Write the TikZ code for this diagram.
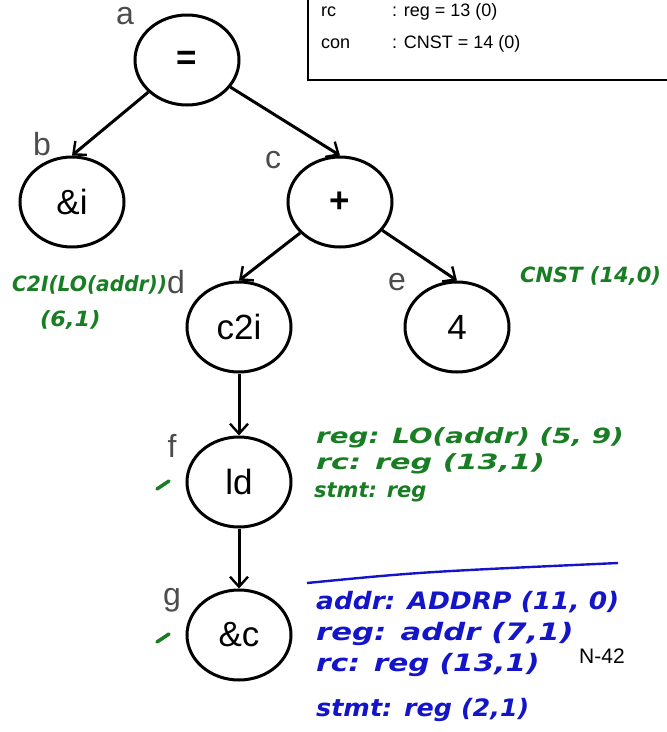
\documentclass[tikz,border=0pt]{standalone}
\usepackage{fontspec}
\setmainfont{Liberation Sans}
\newfontfamily\handfont{DejaVu Sans}
\usetikzlibrary{arrows.meta,shapes.geometric}
\definecolor{hgreen}{RGB}{25,125,35}
\definecolor{hblue}{RGB}{20,20,200}
\tikzset{
  tnode/.style={draw,ellipse,line width=3pt,minimum width=104pt,minimum height=90pt,inner sep=0pt,font=\fontsize{35}{35}\selectfont},
  tlabel/.style={font=\fontsize{32}{32}\selectfont,text=black!70},
  tedge/.style={line width=3pt,-{Straight Barb[length=10pt,width=18pt,line width=2.4pt]}},
  gnote/.style={anchor=west,text=hgreen,font=\handfont\bfseries\itshape\fontsize{21}{21}\selectfont,inner sep=0pt},
  bnote/.style={anchor=west,text=hblue,font=\handfont\bfseries\itshape\fontsize{24}{24}\selectfont,inner sep=0pt},
  boxtext/.style={anchor=west,font=\fontsize{18}{18}\selectfont,inner sep=0pt},
  tick/.style={draw=hgreen,line width=3.5pt,line cap=round}
}
\begin{document}
\begin{tikzpicture}[x=1pt,y=-1pt]
\useasboundingbox[fill=white] (0,0) rectangle (667,732);
% legend box (partially visible)
\draw[line width=2.4pt] (308,-5) -- (308,80) -- (672,80);
\node[boxtext] (rc) at (321,12) {rc};
\node[boxtext] (con) at (321,44) {con};
\node[boxtext] (rcv) at (392,12) {: reg = 13 (0)};
\node[boxtext] (conv) at (392,44) {: CNST = 14 (0)};
% tree nodes
\node[tnode] (a) at (187,60) {\textbf{=}};
\node[tnode] (b) at (72,202) {\&i};
\node[tnode] (c) at (340,202) {\textbf{+}};
\node[tnode] (d) at (239,327) {c2i};
\node[tnode] (e) at (457,327) {4};
\node[tnode] (f) at (239,482) {ld};
\node[tnode] (g) at (239,635) {\&c};
% node letters
\node[tlabel] (la) at (125,16) {a};
\node[tlabel] (lb) at (42,144) {b};
\node[tlabel] (lc) at (273,160) {c};
\node[tlabel] (ld) at (176,282) {d};
\node[tlabel] (le) at (397,282) {e};
\node[tlabel] (lf) at (172,446) {f};
\node[tlabel] (lg) at (172,600) {g};
% edges
\draw[tedge] (a) -- (b.north);
\draw[tedge] (a) -- (c.north);
\draw[tedge] (c) -- (d.north);
\draw[tedge] (c) -- (e.north);
\draw[tedge] (d) -- (f);
\draw[tedge] (f) -- (g);
% green annotations
\node[gnote] (n1) at (12,285) {\scalebox{0.96}[1]{C2I(LO(addr))}};
\node[gnote] (n2) at (40,320) {\scalebox{1.07}[1]{(6,1)}};
\node[gnote] (n3) at (520,276) {CNST (14,0)};
\node[gnote] (n4) at (316,438) {\scalebox{1.32}[1]{reg: LO(addr) (5, 9)}};
\node[gnote] (n5) at (316,464) {\scalebox{1.44}[1]{rc: reg (13,1)}};
\node[gnote] (n6) at (314,492) {stmt: reg};
\draw[tick] (157,489) -- (169,481);
\draw[tick] (157,642) -- (169,634);
% blue annotations
\coordinate (bl1) at (307,583);
\coordinate (bl2) at (618,563);
\draw[hblue,line width=2.4pt] (bl1) .. controls (420,572) .. (bl2);
\node[bnote] (m1) at (316,602) {\scalebox{1.1}[1]{addr: ADDRP (11, 0)}};
\node[bnote] (m2) at (316,634) {\scalebox{1.28}[1]{reg: addr (7,1)}};
\node[bnote] (m3) at (316,665) {\scalebox{1.23}[1]{rc: reg (13,1)}};
\node[bnote] (m4) at (316,710) {\scalebox{1.06}[1]{stmt: reg (2,1)}};
\node[font=\fontsize{21}{21}\selectfont] (n42) at (602,656) {N-42};
\end{tikzpicture}
\end{document}
